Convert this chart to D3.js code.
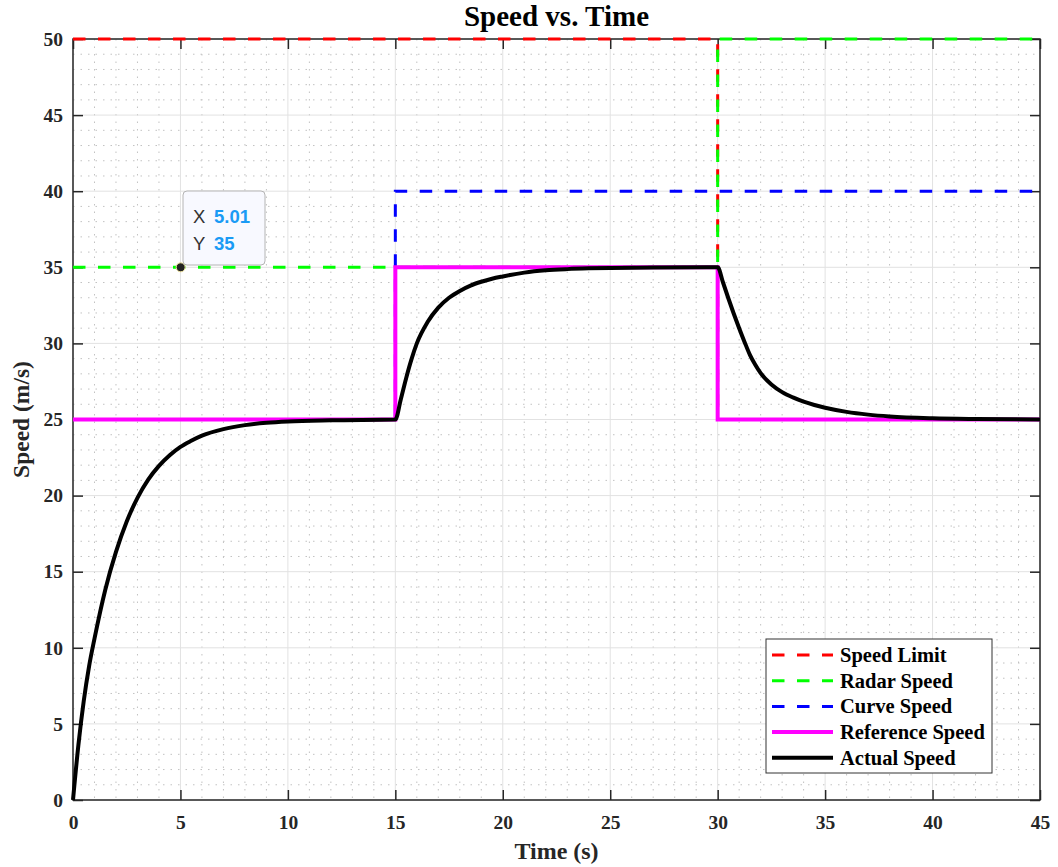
<!DOCTYPE html>
<html>
<head>
<meta charset="utf-8">
<script src="https://cdn.jsdelivr.net/npm/d3@7"></script>
<style>
  body { margin: 0; background: #fff; }
</style>
</head>
<body>
<div id="caja"></div>
<script>
// step series (value holds from that time until the next one)
var stepTime = [0, 15, 30, 45];
var speedLimit = [50, 50, 25, 25];
var radarSpeed = [35, 35, 50, 50];
var curveSpeed = [25, 40, 40, 40];
var refSpeed = [25, 35, 25, 25];

// actual speed
var actTime = [0, 0.25, 0.5, 0.75, 1, 1.5, 2, 2.5, 3, 3.5, 4, 4.5, 5, 5.5, 6, 7, 8, 9, 10, 12, 15,
  15.25, 15.5, 15.75, 16, 16.5, 17, 17.5, 18, 18.5, 19, 19.5, 20, 21, 22, 23, 24, 25, 27, 30,
  30.25, 30.5, 30.75, 31, 31.25, 31.5, 31.75, 32, 32.5, 33, 33.5, 34, 34.5, 35, 36, 37, 38, 40, 42, 45];
var actSpeed = [0, 3.6, 6.5, 8.8, 10.6, 13.8, 16.3, 18.3, 19.85, 21.05, 21.95, 22.65, 23.2, 23.6, 23.94, 24.37, 24.63, 24.78, 24.87, 24.95, 25,
  26.3, 27.7, 28.95, 30.0, 31.4, 32.35, 33.0, 33.45, 33.8, 34.05, 34.25, 34.4, 34.65, 34.8, 34.88, 34.93, 34.96, 34.99, 35,
  34.0, 32.95, 31.95, 31.0, 30.1, 29.25, 28.6, 28.05, 27.3, 26.8, 26.45, 26.17, 25.95, 25.77, 25.5, 25.32, 25.2, 25.08, 25.03, 25];

var xTicks = [0, 5, 10, 15, 20, 25, 30, 35, 40, 45];
var yTicks = [0, 5, 10, 15, 20, 25, 30, 35, 40, 45, 50];
var legendNames = ["Speed Limit", "Radar Speed", "Curve Speed", "Reference Speed", "Actual Speed"];

var w = 1058, h = 867;
var m = { left: 73, top: 39, right: 1040, bottom: 800 };
var serif = "'Liberation Serif', 'Times New Roman', serif";

var chart = d3.select('#caja')
  .append('svg')
  .attr('width', w)
  .attr('height', h)
  .style("background", "#fff");

var x = d3.scaleLinear().domain([0, 45]).range([m.left, m.right]);
var y = d3.scaleLinear().domain([0, 50]).range([m.bottom, m.top]);

// minor grid, dotted every 1 unit
var grid = chart.append("g");
grid.selectAll(".mx").data(d3.range(0, 46).filter(function(d) { return d % 5 != 0; }))
  .enter().append("line")
  .attr("x1", x).attr("x2", x).attr("y1", m.top).attr("y2", m.bottom)
  .style("stroke", "#c2c2c2").style("stroke-width", 1).style("stroke-dasharray", "1.5,6");
grid.selectAll(".my").data(d3.range(0, 51).filter(function(d) { return d % 5 != 0; }))
  .enter().append("line")
  .attr("y1", y).attr("y2", y).attr("x1", m.left).attr("x2", m.right)
  .style("stroke", "#c2c2c2").style("stroke-width", 1).style("stroke-dasharray", "1.5,6");
// major grid
grid.selectAll(".gx").data(xTicks)
  .enter().append("line")
  .attr("x1", x).attr("x2", x).attr("y1", m.top).attr("y2", m.bottom)
  .style("stroke", "#e2e2e2").style("stroke-width", 1);
grid.selectAll(".gy").data(yTicks)
  .enter().append("line")
  .attr("y1", y).attr("y2", y).attr("x1", m.left).attr("x2", m.right)
  .style("stroke", "#e2e2e2").style("stroke-width", 1);

// axes, ticks pointing inward
var axB = chart.append("g").attr("transform", "translate(0," + m.bottom + ")")
  .call(d3.axisBottom(x).tickValues(xTicks).tickSize(-10).tickSizeOuter(0).tickPadding(15));
var axL = chart.append("g").attr("transform", "translate(" + m.left + ",0)")
  .call(d3.axisLeft(y).tickValues(yTicks).tickSize(-10).tickSizeOuter(0).tickPadding(10));
var axT = chart.append("g").attr("transform", "translate(0," + m.top + ")")
  .call(d3.axisTop(x).tickValues(xTicks).tickSize(-10).tickSizeOuter(0).tickFormat(""));
var axR = chart.append("g").attr("transform", "translate(" + m.right + ",0)")
  .call(d3.axisRight(y).tickValues(yTicks).tickSize(-10).tickSizeOuter(0).tickFormat(""));

[axB, axL, axT, axR].forEach(function(a) {
  a.select(".domain").remove();
  a.selectAll(".tick line").style("stroke", "#262626").style("stroke-width", 1.5);
  a.selectAll("text")
    .style("font-family", serif).style("font-size", "19.5px")
    .style("font-weight", "bold").style("fill", "#262626");
});

chart.append("rect")
  .attr("x", m.left).attr("y", m.top)
  .attr("width", m.right - m.left).attr("height", m.bottom - m.top)
  .style("fill", "none").style("stroke", "#262626").style("stroke-width", 1.5);

// series
var stepLine = d3.line()
  .x(function(d, i) { return x(stepTime[i]); })
  .y(function(d) { return y(d); })
  .curve(d3.curveStepAfter);

var series = [
  { vals: speedLimit, col: "#ff0000", dash: "12.5,12.5", sw: 3 },
  { vals: radarSpeed, col: "#00ff00", dash: "12.5,12.5", sw: 3 },
  { vals: curveSpeed, col: "#0000ff", dash: "12.5,12.5", sw: 3 },
  { vals: refSpeed, col: "#ff00ff", dash: null, sw: 4 }
];

chart.append("g").selectAll("path")
  .data(series)
  .enter().append("path")
  .attr("d", function(d) { return stepLine(d.vals); })
  .style("fill", "none")
  .style("stroke", function(d) { return d.col; })
  .style("stroke-width", function(d) { return d.sw; })
  .style("stroke-dasharray", function(d) { return d.dash; });

var actLine = d3.line()
  .x(function(d, i) { return x(actTime[i]); })
  .y(function(d) { return y(d); })
  .curve(d3.curveMonotoneX);

chart.append("path")
  .attr("d", actLine(actSpeed))
  .style("fill", "none").style("stroke", "#000")
  .style("stroke-width", 4).style("stroke-linejoin", "round");

// data tip
var tipT = 5.01, tipV = 35;
chart.append("circle")
  .attr("cx", x(tipT)).attr("cy", y(tipV)).attr("r", 4.5)
  .style("fill", "#222").style("stroke", "#f2e6a0").style("stroke-width", 1);
var tip = chart.append("g").attr("transform", "translate(183,191)");
tip.append("rect")
  .attr("width", 82).attr("height", 74).attr("rx", 4)
  .style("fill", "#f8f9ff").style("stroke", "#b4b4b4").style("stroke-width", 1);
[["X", tipT.toFixed(2), 32], ["Y", String(tipV), 59]].forEach(function(r) {
  var t = tip.append("text").attr("x", 10).attr("y", r[2])
    .style("font-family", "'Liberation Sans', Arial, sans-serif").style("font-size", "18.5px");
  t.append("tspan").text(r[0]).style("fill", "#333");
  t.append("tspan").attr("x", 31).text(r[1]).style("fill", "#1a9bf5").style("font-weight", "bold");
});

// legend
var lg = chart.append("g").attr("transform", "translate(766,639)");
lg.append("rect").attr("width", 226).attr("height", 134)
  .style("fill", "#fff").style("stroke", "#333").style("stroke-width", 1);
var legStyle = series.concat([{ col: "#000", dash: null, sw: 4 }]);
legendNames.forEach(function(n, i) {
  var yy = 16 + i * 25.7;
  lg.append("line").attr("x1", 6).attr("x2", 67).attr("y1", yy).attr("y2", yy)
    .style("stroke", legStyle[i].col).style("stroke-width", legStyle[i].sw)
    .style("stroke-dasharray", legStyle[i].dash);
  lg.append("text").attr("x", 74).attr("y", yy + 7).text(n)
    .style("font-family", serif).style("font-size", "20.5px").style("font-weight", "bold");
});

// titles
chart.append("text").attr("x", (m.left + m.right) / 2).attr("y", 26)
  .attr("text-anchor", "middle").text("Speed vs. Time")
  .style("font-family", serif).style("font-size", "29px").style("font-weight", "bold");
chart.append("text").attr("x", (m.left + m.right) / 2).attr("y", 859)
  .attr("text-anchor", "middle").text("Time (s)")
  .style("font-family", serif).style("font-size", "24px").style("font-weight", "bold")
  .style("fill", "#262626");
chart.append("text")
  .attr("transform", "translate(29," + (m.top + m.bottom) / 2 + ") rotate(-90)")
  .attr("text-anchor", "middle").text("Speed (m/s)")
  .style("font-family", serif).style("font-size", "23.5px").style("font-weight", "bold")
  .style("fill", "#262626");
</script>
</body>
</html>
